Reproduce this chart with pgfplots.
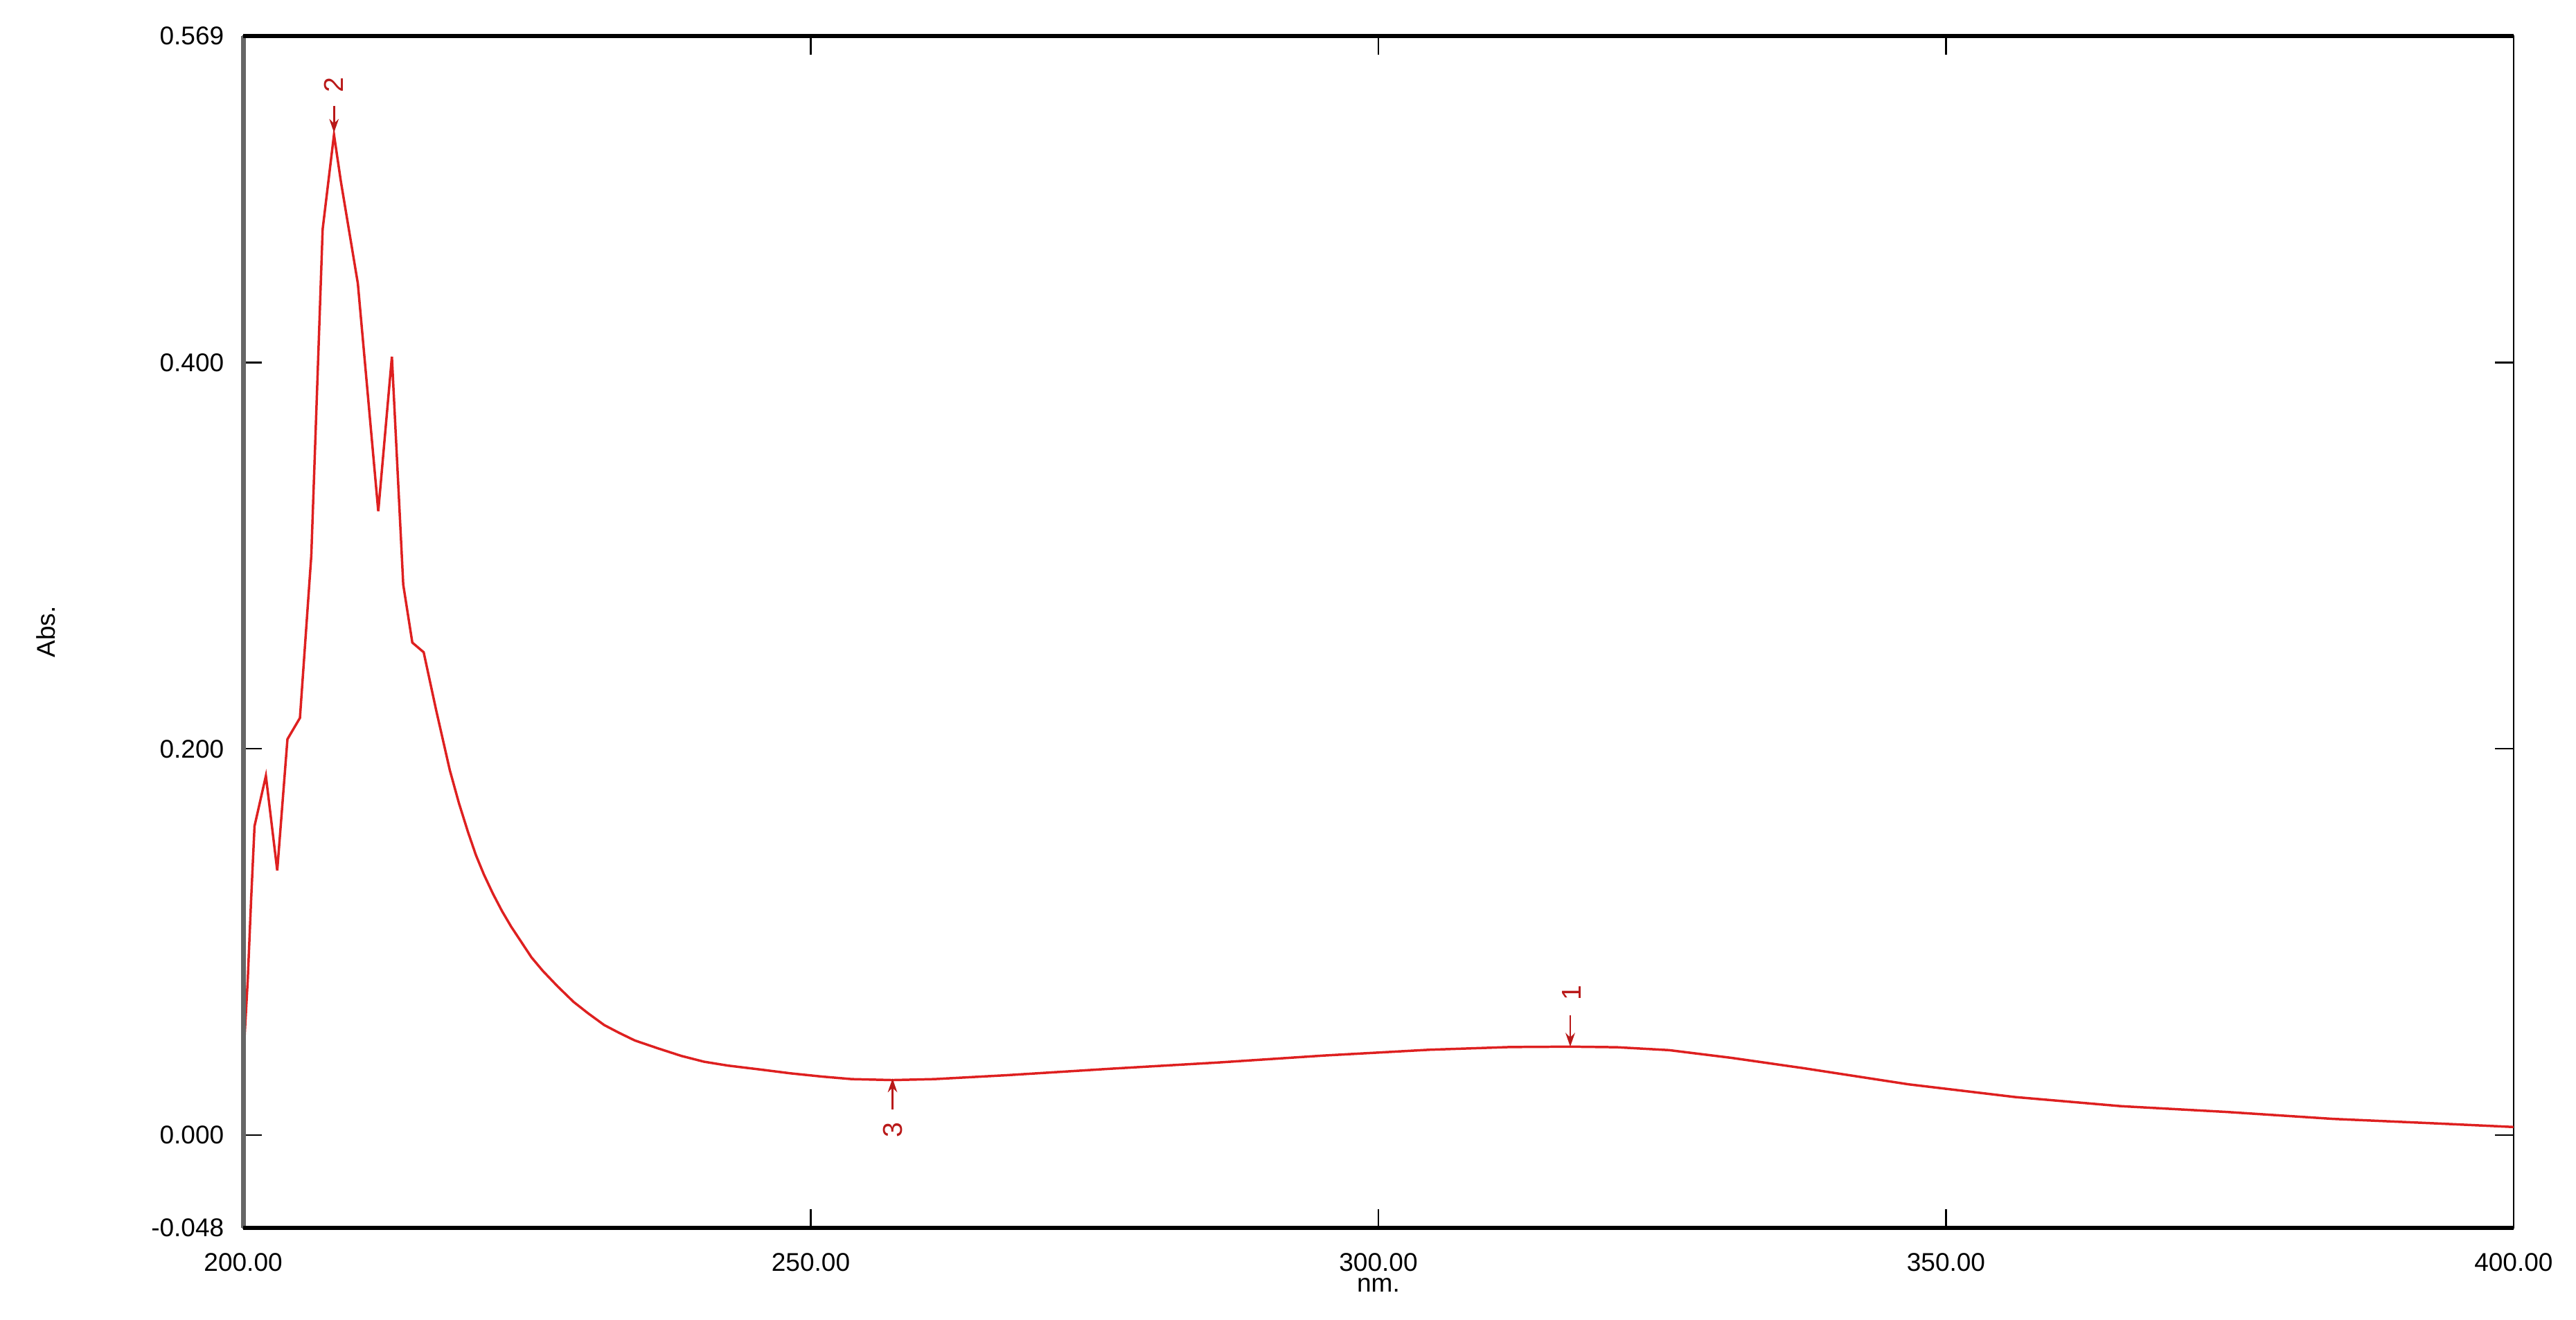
\documentclass[border=0pt]{standalone}
\usepackage{fontspec}
\setmainfont{Liberation Sans}
\usepackage{pgfplots}
\pgfplotsset{compat=1.18}
\usetikzlibrary{arrows.meta,calc}

\definecolor{specred}{RGB}{222,32,32}
\definecolor{markred}{RGB}{185,25,25}

\begin{document}
\begin{tikzpicture}[font=\fontsize{8.5pt}{10pt}\selectfont]
  \begin{axis}[
    scale only axis,
    width=26.44cm,
    height=13.88cm,
    xmin=200, xmax=400,
    ymin=-0.048, ymax=0.569,
    xtick={200,250,300,350,400},
    xticklabels={200.00,250.00,300.00,350.00,400.00},
    ytick={-0.048,0,0.2,0.4,0.569},
    yticklabels={-0.048,0.000,0.200,0.400,0.569},
    /pgf/number format/assume math mode=true,
    tick align=inside,
    tick pos=both,
    major tick length=0.22cm,
    tick style={black, line width=0.5pt},
    axis line style={black, line width=0.6pt},
    yticklabel style={xshift=-0.1cm},
    xticklabel style={yshift=-0.17cm},
    xlabel={nm.},
    ylabel={Abs.},
    every axis x label/.style={at={(axis description cs:0.5,-0.048)}, anchor=center},
    every axis y label/.style={at={(axis description cs:-0.087,0.5)}, anchor=center, rotate=90},
    clip=false,
  ]
    % spectrum
    \addplot[specred, line width=0.8pt, mark=none] coordinates {
      (200.0,0.038) (200.4,0.080) (200.7,0.122) (201.0,0.160)
      (202.0,0.186) (203.0,0.137) (203.9,0.205) (205.0,0.216)
      (206.0,0.300) (206.6,0.401) (207.0,0.469) (208.0,0.518)
      (208.6,0.494) (210.1,0.441) (211.9,0.323) (213.1,0.403)
      (214.1,0.285) (214.9,0.255) (215.9,0.250) (217.0,0.220)
      (218.2,0.189) (219.0,0.172) (219.8,0.157) (220.5,0.145)
      (221.2,0.135) (222.0,0.125) (222.8,0.116) (223.6,0.108)
      (224.5,0.100) (225.4,0.092) (226.4,0.085) (227.7,0.077)
      (229.1,0.069) (230.4,0.063) (231.8,0.057) (233.1,0.053)
      (234.5,0.049) (236.5,0.045) (238.6,0.041) (240.6,0.038)
      (242.7,0.036) (245.5,0.034) (248.2,0.032) (251.0,0.0303)
      (253.6,0.029) (257.2,0.0285) (260.9,0.029) (267.2,0.031)
      (276.5,0.0344) (285.9,0.0376) (295.2,0.0412) (304.5,0.0442)
      (311.6,0.0456) (316.9,0.0458) (321.0,0.0455) (325.6,0.0440)
      (331.1,0.0400) (337.4,0.0347) (346.7,0.0263) (356.1,0.0197)
      (365.4,0.0150) (374.7,0.0120) (384.1,0.0084) (393.4,0.0060)
      (400.0,0.0042)
    };
    % peak pick arrows
    \addplot[markred, line width=0.6pt, -{Stealth[length=1.6mm,width=1.1mm]},
      quiver={u=0, v=\thisrow{v}}] table[x=x, y=y] {
      x     y      v
      208.0 0.533  -0.014
      316.9 0.062  -0.0162
      257.2 0.0133 0.0160
    };
    % peak pick labels
    \addplot[draw=none, mark=none, nodes near coords, point meta=explicit symbolic,
      nodes near coords style={rotate=90, anchor=center, text=markred,
        font=\fontsize{9pt}{10pt}\selectfont}] table[x=x, y=y, meta=lab] {
      x     y      lab
      208.0 0.5436 2
      317.0 0.0735 1
      257.2 0.0025 3
    };
    % heavier frame lines
    \draw[black!60, line width=1.6pt] (rel axis cs:0,0) -- (rel axis cs:0,1);
    \draw[black, line width=1.3pt] (rel axis cs:0,0) -- (rel axis cs:1,0);
    \draw[black, line width=1.3pt] (rel axis cs:0,1) -- (rel axis cs:1,1);
  \end{axis}
  \path ($(current axis.south west)+(-2.832cm,-1.071cm)$)
    rectangle ($(current axis.north east)+(0.727cm,0.421cm)$);
\end{tikzpicture}
\end{document}
